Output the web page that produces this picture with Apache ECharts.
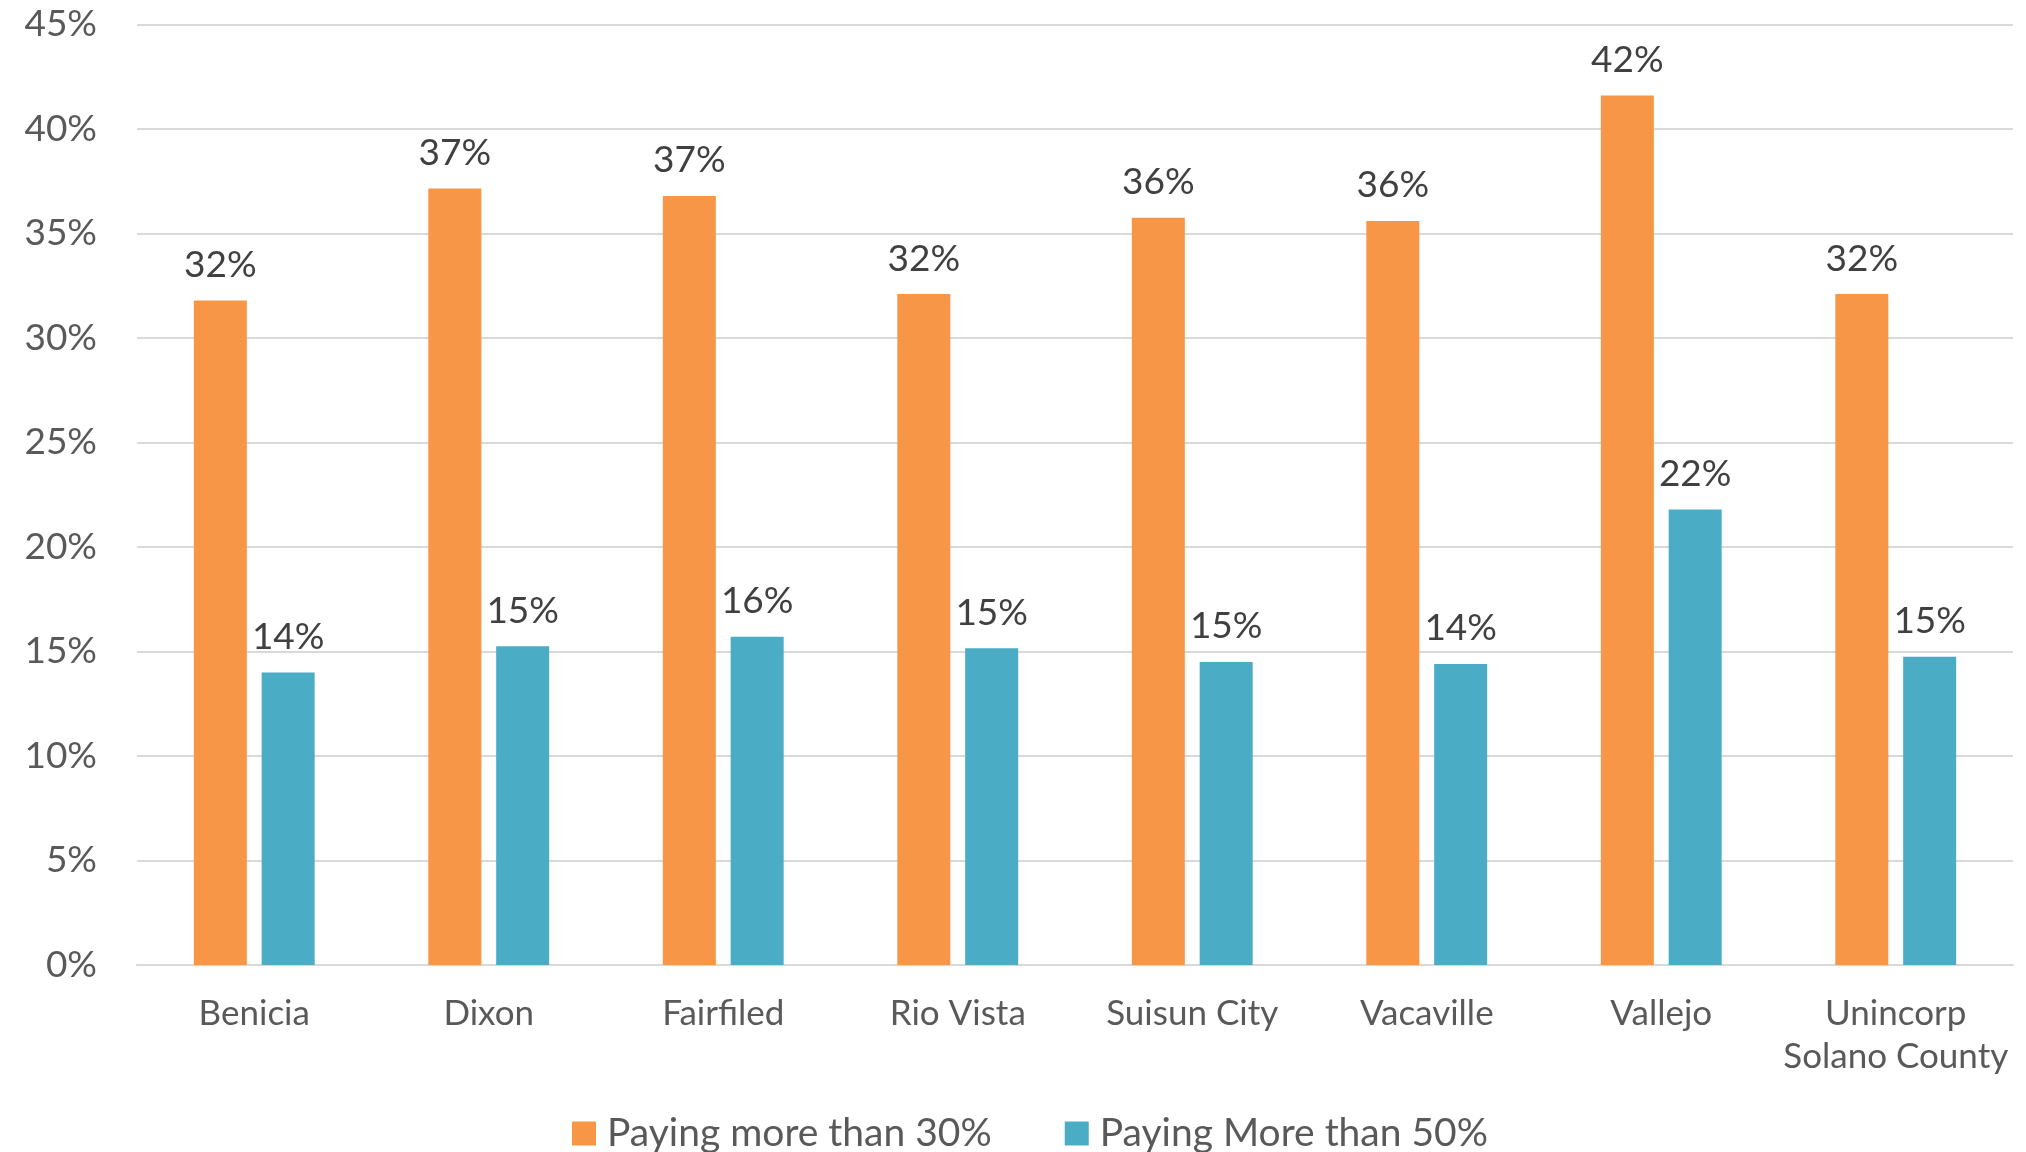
<!DOCTYPE html>
<html>
<head>
<meta charset="utf-8">
<script src="https://cdn.jsdelivr.net/npm/echarts@6/dist/echarts.min.js"></script>
<style>
  html, body { margin: 0; padding: 0; background: #ffffff; }
  #chart { width: 2026px; height: 1152px; }
</style>
</head>
<body>
<div id="chart"></div>
<script>
const categories = ['Benicia', 'Dixon', 'Fairfiled', 'Rio Vista', 'Suisun City', 'Vacaville', 'Vallejo', 'Unincorp\nSolano County'];
const seriesNames = ['Paying more than 30%', 'Paying More than 50%'];
const over30 = [31.8, 37.15, 36.8, 32.1, 35.75, 35.6, 41.6, 32.1];
const over50 = [14.0, 15.25, 15.7, 15.15, 14.5, 14.4, 21.8, 14.75];
const yTicks = [0, 5, 10, 15, 20, 25, 30, 35, 40, 45];

const FONT = 'Lato';
const chart = echarts.init(document.getElementById('chart'), null, { renderer: 'canvas' });

const labelCfg = {
  show: true,
  position: 'top',
  distance: 17,
  color: '#404040',
  fontFamily: FONT,
  fontSize: 37,
  formatter: p => Math.round(p.value) + '%'
};

chart.setOption({
  animation: false,
  backgroundColor: '#ffffff',
  color: ['#F79646', '#4BACC6'],
  grid: { left: 137, right: 13, top: 24.5, bottom: 187, containLabel: false },
  legend: {
    data: seriesNames,
    left: 567,
    top: 1109,
    itemWidth: 24,
    itemHeight: 24,
    itemGap: 73,
    icon: 'rect',
    textStyle: {
      color: '#595959',
      fontFamily: FONT,
      fontSize: 39,
      padding: [0, 0, 0, 6]
    }
  },
  xAxis: {
    type: 'category',
    data: categories,
    axisLine: { show: true, lineStyle: { color: '#D9D9D9', width: 2 } },
    axisTick: { show: false },
    axisLabel: {
      color: '#595959',
      fontFamily: FONT,
      fontSize: 35,
      margin: 27,
      lineHeight: 43,
      interval: 0
    }
  },
  yAxis: {
    type: 'value',
    min: yTicks[0],
    max: yTicks[yTicks.length - 1],
    interval: 5,
    axisLine: { show: false },
    axisTick: { show: false },
    splitLine: { lineStyle: { color: '#D9D9D9', width: 2 } },
    axisLabel: {
      color: '#595959',
      fontFamily: FONT,
      fontSize: 37,
      margin: 40,
      formatter: v => v + '%'
    }
  },
  series: [
    {
      name: seriesNames[0],
      type: 'bar',
      data: over30,
      barWidth: 53,
      barGap: '28%',
      label: labelCfg
    },
    {
      name: seriesNames[1],
      type: 'bar',
      data: over50,
      barWidth: 53,
      barGap: '28%',
      label: labelCfg
    }
  ]
});
</script>
</body>
</html>
